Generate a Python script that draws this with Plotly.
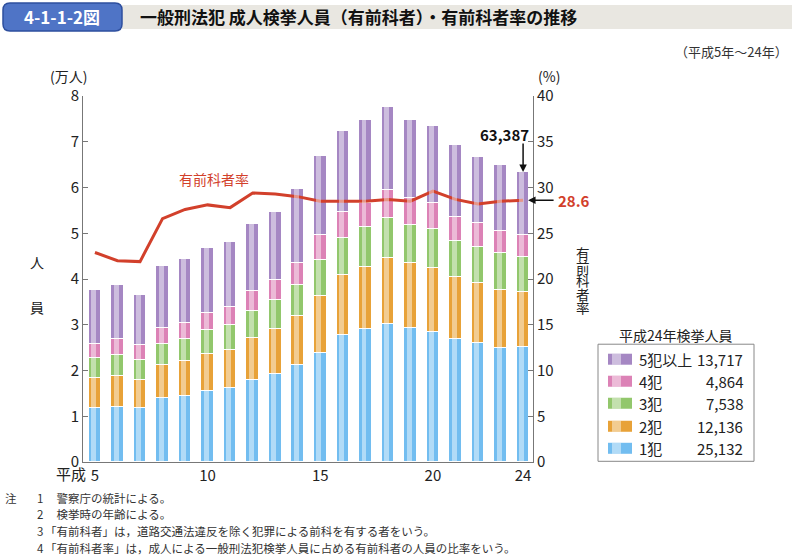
import plotly.graph_objects as go

years = list(range(5, 25))
year_ticks = [5, 10, 15, 20, 24]
year_tick_text = ["5", "10", "15", "20", "24"]

# 検挙人員（万人）
crime_1 = [1.18, 1.20, 1.18, 1.39, 1.45, 1.55, 1.62, 1.79, 1.93, 2.13, 2.39, 2.77, 2.90, 3.01, 2.94, 2.85, 2.68, 2.61, 2.50, 2.5132]
crime_2 = [0.66, 0.69, 0.62, 0.72, 0.75, 0.81, 0.83, 0.93, 0.98, 1.07, 1.24, 1.32, 1.37, 1.44, 1.40, 1.40, 1.36, 1.30, 1.27, 1.2136]
crime_3 = [0.44, 0.44, 0.44, 0.47, 0.49, 0.52, 0.54, 0.59, 0.64, 0.67, 0.79, 0.81, 0.86, 0.89, 0.84, 0.84, 0.78, 0.78, 0.79, 0.7538]
crime_4 = [0.31, 0.35, 0.31, 0.36, 0.35, 0.37, 0.39, 0.43, 0.42, 0.47, 0.54, 0.57, 0.54, 0.61, 0.59, 0.57, 0.54, 0.53, 0.48, 0.4864]
crime_5 = [1.17, 1.19, 1.10, 1.35, 1.39, 1.43, 1.43, 1.46, 1.49, 1.63, 1.72, 1.77, 1.81, 1.82, 1.70, 1.69, 1.57, 1.44, 1.46, 1.3717]
# 有前科者率（%）
rate = [22.9, 22.0, 21.9, 26.6, 27.6, 28.1, 27.8, 29.4, 29.3, 29.0, 28.5, 28.5, 28.5, 28.7, 28.5, 29.6, 28.7, 28.2, 28.5, 28.6]

series_names = ["1犯", "2犯", "3犯", "4犯", "5犯以上"]
series_values = [crime_1, crime_2, crime_3, crime_4, crime_5]
series_colors = ["#72bdf0", "#e8a238", "#92c76c", "#dc82b6", "#a587c3"]
legend_counts = ["25,132", "12,136", "7,538", "4,864", "13,717"]
total_label = "63,387"
rate_label = "28.6"

FONT = "Noto Sans CJK JP"
W, H = 792, 559
PL, PR, PT, PB = 83, 533, 96, 461.7
RED = "#d2402b"


def px(x):
    return (x - PL) / (PR - PL)


def py(y):
    return (PB - y) / (PB - PT)


fig = go.Figure()

for name, vals, col in zip(series_names, series_values, series_colors):
    fig.add_trace(go.Bar(x=years, y=vals, name=name, width=0.56,
                         marker=dict(color=col, line=dict(color="white", width=1)),
                         xaxis="x", yaxis="y", showlegend=False))
# highlight overlay for gradient look
for vals in series_values:
    fig.add_trace(go.Bar(x=years, y=vals, width=0.22, offset=-0.17,
                         marker=dict(color="rgba(255,255,255,0.45)", line=dict(width=0)),
                         xaxis="x2", yaxis="y", showlegend=False, hoverinfo="skip"))

fig.add_trace(go.Scatter(x=years, y=rate, mode="lines", line=dict(color=RED, width=3),
                         xaxis="x", yaxis="y2", showlegend=False))

xr = [4.47, 24.44]
fig.update_layout(
    width=W, height=H,
    margin=dict(l=PL, r=W - PR, t=PT, b=H - PB, pad=0),
    paper_bgcolor="white", plot_bgcolor="white",
    barmode="stack", bargap=0,
    font=dict(family=FONT, color="#222"),
    xaxis=dict(range=xr, tickmode="array", tickvals=year_ticks, ticktext=year_tick_text,
               showgrid=False, zeroline=False, showline=True, linecolor="#777", linewidth=1,
               ticks="", tickfont=dict(size=15, color="#222")),
    xaxis2=dict(range=xr, overlaying="x", visible=False),
    yaxis=dict(range=[0, 8], tickvals=list(range(0, 9)), showgrid=False, zeroline=False,
               showline=True, linecolor="#777", linewidth=1, ticks="inside", ticklen=5,
               tickcolor="#777", tickfont=dict(size=15, color="#222")),
    yaxis2=dict(range=[0, 40], tickvals=list(range(0, 41, 5)), overlaying="y", side="right",
                showgrid=False, zeroline=False, showline=True, linecolor="#777", linewidth=1,
                ticks="inside", ticklen=5, tickcolor="#777", tickfont=dict(size=15, color="#222")),
)

shapes = []
ann = []


def label(text, x, y, size=14, color="#222", xanchor="center", **kw):
    d = dict(text=text, xref="paper", yref="paper", x=px(x), y=py(y), xanchor=xanchor,
             yanchor="middle", showarrow=False, font=dict(size=size, color=color, family=FONT))
    d.update(kw)
    ann.append(d)


# title band
shapes.append(dict(type="rect", xref="paper", yref="paper", x0=px(122), x1=px(792), y0=py(5), y1=py(29),
                   fillcolor="#e9e7e1", line=dict(width=0), layer="below"))
x0, x1, y0, y1, r = 3, 122, 3, 31, 7
path = (f"M {px(x0 + r)} {py(y0)} L {px(x1 - r)} {py(y0)} Q {px(x1)} {py(y0)} {px(x1)} {py(y0 + r)} "
        f"L {px(x1)} {py(y1 - r)} Q {px(x1)} {py(y1)} {px(x1 - r)} {py(y1)} "
        f"L {px(x0 + r)} {py(y1)} Q {px(x0)} {py(y1)} {px(x0)} {py(y1 - r)} "
        f"L {px(x0)} {py(y0 + r)} Q {px(x0)} {py(y0)} {px(x0 + r)} {py(y0)} Z")
shapes.append(dict(type="path", xref="paper", yref="paper", path=path,
                   fillcolor="#4f74c6", line=dict(color="#2e4f9e", width=1.5)))
label("<b>4-1-1-2図</b>", 62, 17, size=17, color="white")
label("<b>一般刑法犯 成人検挙人員（有前科者）・有前科者率の推移</b>", 138, 17, size=17, color="#111",
      xanchor="left")
label("（平成5年～24年）", 790, 52, size=13, color="#333", xanchor="right")

# axis labels
label("(万人)", 68, 76)
label("(%)", 549, 76)
label("人", 37, 262)
label("員", 37, 307)
for i, ch in enumerate("有前科者率"):
    label(ch, 583, 253 + i * 13.5, size=13.5)
ann.append(dict(text="平成", xref="x", yref="paper", x=years[0], xshift=-7, y=py(473),
                xanchor="right", yanchor="middle", showarrow=False, font=dict(size=15, family=FONT)))

# line label
ann.append(dict(text="有前科者率", xref="x", yref="y2", x=10.3, y=30.9, showarrow=False,
                xanchor="center", yanchor="middle", font=dict(size=14, color=RED, family=FONT)))

# total callout
total_last = crime_1[-1] + crime_2[-1] + crime_3[-1] + crime_4[-1] + crime_5[-1]
ann.append(dict(text="", xref="x", yref="y", x=years[-1], y=total_last, ax=0, ay=-30,
                showarrow=True, arrowhead=2, arrowsize=1, arrowwidth=1.5, arrowcolor="#111"))
ann.append(dict(text=f"<b>{total_label}</b>", xref="x", yref="y", x=years[-1], y=total_last,
                xanchor="right", yanchor="middle", xshift=8, yshift=38, showarrow=False,
                font=dict(size=15, color="#111", family=FONT)))
# rate callout
ann.append(dict(text="", xref="x", yref="y2", x=years[-1], y=rate[-1], xshift=5, ax=27, ay=0,
                showarrow=True, arrowhead=2, arrowsize=1, arrowwidth=1.5, arrowcolor="#111"))
ann.append(dict(text=f"<b>{rate_label}</b>", xref="x", yref="y2", x=years[-1], y=rate[-1],
                xanchor="left", yanchor="middle", xshift=33, showarrow=False,
                font=dict(size=15, color=RED, family=FONT)))

# custom legend
shapes.append(dict(type="rect", xref="paper", yref="paper", x0=px(598), x1=px(754), y0=py(344), y1=py(461),
                   fillcolor="white", line=dict(color="#888", width=1)))
label("平成24年検挙人員", 676, 335)
row_y = [448, 426, 403, 381, 359]
for name, col, cnt, ry in zip(series_names, series_colors, legend_counts, row_y):
    shapes.append(dict(type="rect", xref="paper", yref="paper", x0=px(608), x1=px(632),
                       y0=py(ry + 5.5), y1=py(ry - 5.5), fillcolor=col, line=dict(width=0)))
    shapes.append(dict(type="rect", xref="paper", yref="paper", x0=px(612), x1=px(621),
                       y0=py(ry + 5.5), y1=py(ry - 5.5), fillcolor="rgba(255,255,255,0.45)",
                       line=dict(width=0)))
    label(name, 637, ry, size=15, xanchor="left")
    label(cnt, 745, ry, size=15, xanchor="right")

# notes
notes = [
    (498, "注", "1", "　警察庁の統計による。"),
    (514, "", "2", "　検挙時の年齢による。"),
    (531, "", "3", "「有前科者」は，道路交通法違反を除く犯罪による前科を有する者をいう。"),
    (548, "", "4", "「有前科者率」は，成人による一般刑法犯検挙人員に占める有前科者の人員の比率をいう。"),
]
for ny, head, num, txt in notes:
    if head:
        label(head, 3, ny, size=11.5, color="#333", xanchor="left")
    label(num, 35, ny, size=11.5, color="#333", xanchor="left")
    label(txt, 43, ny, size=11.5, color="#333", xanchor="left")

fig.update_layout(shapes=shapes, annotations=ann)
fig.write_html("out.html", config={"displayModeBar": False},
               post_script="document.body.style.margin='0px';")
